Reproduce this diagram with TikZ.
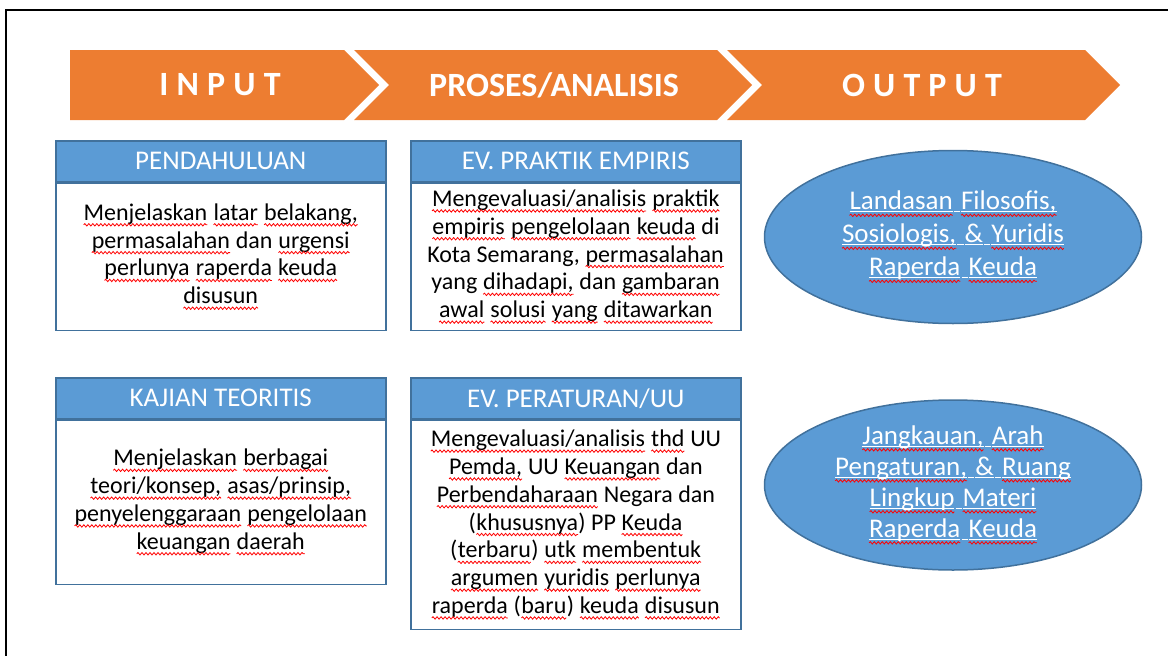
\documentclass[tikz,border=0pt]{standalone}
\usepackage{fontspec}
\setmainfont{Carlito}
\newfontfamily\bandfont[LetterSpace=24]{Carlito}
\usetikzlibrary{positioning, shapes.geometric, decorations.pathmorphing}

\definecolor{chevron}{HTML}{ED7D31}
\definecolor{hdrblue}{HTML}{5B9BD5}
\definecolor{edgeblue}{HTML}{41719C}

\tikzset{
  sqword/.style={shape=rectangle, draw=none, fill=none, inner sep=0pt,
                 outer sep=0pt, minimum width=0pt, minimum height=0pt,
                 anchor=base},
  sqline/.style={draw=red, line width=0.8pt, decorate,
                 decoration={snake, amplitude=1.2pt, segment length=4pt}},
  ulwhite/.style={draw=white, line width=1.1pt}
}
% spell-check squiggle under a word
\newcommand\sq[1]{\tikz[baseline=(w.base)]{\node[sqword] (w) {#1};
  \draw[sqline] ([yshift=-4.5pt]w.base west) -- ([yshift=-4.5pt]w.base east);}}
% underlined word with squiggle (ellipses)
\newcommand\wsq[1]{\tikz[baseline=(w.base)]{\node[sqword] (w) {#1};
  \draw[ulwhite] ([yshift=-2pt]w.base west) -- ([yshift=-2pt]w.base east);
  \draw[sqline] ([yshift=-5.5pt]w.base west) -- ([yshift=-5.5pt]w.base east);}}
\newcommand\usp{\tikz[baseline=(w.base)]{\node[sqword] (w) {\ };
  \draw[ulwhite] ([yshift=-2pt]w.base west) -- ([yshift=-2pt]w.base east);}}
\newcommand\uamp{\tikz[baseline=(w.base)]{\node[sqword] (w) {\&};
  \draw[ulwhite] ([yshift=-2pt]w.base west) -- ([yshift=-2pt]w.base east);}}

\begin{document}
\begin{tikzpicture}[
    x=1pt, y=-1pt,
    bandlbl/.style={text=white, font=\fontsize{34}{40}\selectfont\bfseries},
    hdr/.style={draw=edgeblue, line width=1.5pt, fill=hdrblue, text=white,
                minimum width=330pt, minimum height=41pt, inner sep=0pt,
                font=\fontsize{27}{30}\selectfont},
    bodybox/.style={draw=edgeblue, line width=1.5pt, fill=white,
                minimum width=330pt, inner sep=0pt, align=center,
                font=\fontsize{24}{27.8}\selectfont},
    oval/.style={ellipse, draw=edgeblue, line width=1.5pt, fill=hdrblue,
                text=white, inner sep=0pt, align=center,
                minimum width=377pt}
  ]
  \useasboundingbox (0,0) rectangle (1168,656);
  \draw[line width=2pt] (6,656) -- (6,10) -- (1168,10);

  % Process band
  \fill[chevron] (70,50) -- (344,50) -- (379,85) -- (344,120) -- (70,120) -- cycle;
  \foreach \l/\r in {354/717, 727/1085} {
    \fill[chevron] (\l,50) -- (\r,50) -- (\r+35,85) -- (\r,120)
      -- (\l,120) -- (\l+35,85) -- cycle;
  }
  \node[bandlbl] (inLbl) at (220,85) {\bandfont INPUT};
  \node[bandlbl] (procLbl) at (554,85) {PROSES/ANALISIS};
  \node[bandlbl] (outLbl) at (922,85) {\bandfont OUTPUT};

  % Input column
  \node[hdr, anchor=north west] (pendHdr) at (55,140) {PENDAHULUAN};
  \node[bodybox, minimum height=147pt, below=0pt of pendHdr] (pendBody)
    {\sq{Menjelaskan} \sq{latar} \sq{belakang,}\\
     \sq{permasalahan} dan \sq{urgensi}\\
     \sq{perlunya} \sq{raperda} \sq{keuda}\\
     \sq{disusun}};
  \node[hdr, anchor=north west] (teoriHdr) at (55,377) {KAJIAN TEORITIS};
  \node[bodybox, minimum height=164pt, below=0pt of teoriHdr] (teoriBody)
    {\sq{Menjelaskan} \sq{berbagai}\\
     \sq{teori/konsep,} \sq{asas/prinsip,}\\
     \sq{penyelenggaraan} \sq{pengelolaan}\\
     \sq{keuangan} \sq{daerah}};

  % Process column
  \node[hdr, anchor=north west] (empHdr) at (410,140) {EV. PRAKTIK EMPIRIS};
  \node[bodybox, minimum height=147pt, below=0pt of empHdr] (empBody)
    {\sq{Mengevaluasi/analisis} \sq{praktik}\\
     \sq{empiris} \sq{pengelolaan} \sq{keuda} di\\
     Kota Semarang, \sq{permasalahan}\\
     yang \sq{dihadapi,} dan \sq{gambaran}\\
     \sq{awal} \sq{solusi} \sq{yang} \sq{ditawarkan}};
  \node[hdr, anchor=north west] (uuHdr) at (410,377) {EV. PERATURAN/UU};
  \node[bodybox, minimum height=209pt, below=0pt of uuHdr] (uuBody)
    {\sq{Mengevaluasi/analisis} \sq{thd} UU\\
     \sq{Pemda,} UU \sq{Keuangan} dan\\
     \sq{Perbendaharaan} Negara dan\\
     (\sq{khususnya}) PP \sq{Keuda}\\
     (\sq{terbaru}) \sq{utk} \sq{membentuk}\\
     \sq{argumen} \sq{yuridis} \sq{perlunya}\\
     \sq{raperda} (\sq{baru}) \sq{keuda} \sq{disusun}};

  % Output column
  \node[oval, minimum height=173pt, font=\fontsize{27}{33}\selectfont]
    (filoOut) at (953,237)
    {\wsq{Landasan}\usp\wsq{Filosofis,}\\
     \wsq{Sosiologis,}\usp\uamp\usp\wsq{Yuridis}\\
     \wsq{Raperda}\usp\wsq{Keuda}};
  \node[oval, minimum height=170pt, font=\fontsize{27}{31}\selectfont]
    (ruangOut) at (953,485)
    {\wsq{Jangkauan,}\usp\wsq{Arah}\\
     \wsq{Pengaturan,}\usp\uamp\usp\wsq{Ruang}\\
     \wsq{Lingkup}\usp\wsq{Materi}\\
     \wsq{Raperda}\usp\wsq{Keuda}};
\end{tikzpicture}
\end{document}
